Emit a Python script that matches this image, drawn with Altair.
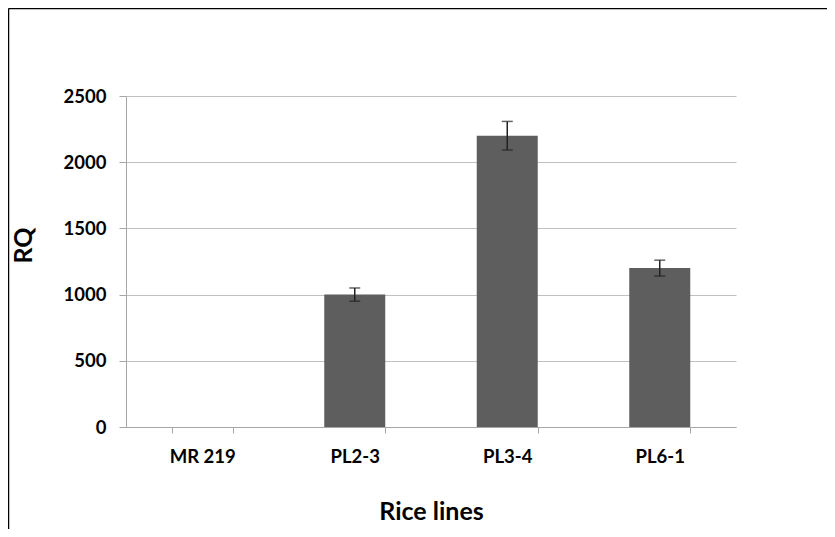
import altair as alt
import pandas as pd

lines = ["MR 219", "PL2-3", "PL3-4", "PL6-1"]
rq = [0, 1000, 2200, 1200]
err = [0, 50, 108, 60]
y_ticks = [0, 500, 1000, 1500, 2000, 2500]

df = pd.DataFrame({"line": lines, "rq": rq, "err": err})
df["lo"] = df["rq"] - df["err"]
df["hi"] = df["rq"] + df["err"]
df_err = df[df["err"] > 0]

FONT = "Lato"
GRID = "#c0c0c0"
AXIS = "#a6a6a6"

x_enc = alt.X(
    "line:N",
    sort=lines,
    title="Rice lines",
    scale=alt.Scale(paddingInner=0.6, paddingOuter=0.3),
    axis=alt.Axis(
        labelAngle=0,
        tickBand="extent",
        tickSize=6,
        tickColor=AXIS,
        domainColor=AXIS,
        labelFont=FONT,
        labelFontSize=18.5,
        labelFontWeight="bold",
        labelColor="black",
        labelBaseline="alphabetic",
        labelPadding=29,
        titleFont=FONT,
        titleFontSize=25,
        titleFontWeight="bold",
        titleColor="black",
        titleBaseline="alphabetic",
        titleY=92,
        grid=False,
    ),
)

y_scale = alt.Scale(domain=[0, 2500], nice=False)
y_axis = alt.Axis(
    values=y_ticks,
    format="d",
    grid=True,
    gridColor=GRID,
    gridWidth=1.2,
    tickSize=7,
    tickColor=AXIS,
    domainColor=AXIS,
    labelFont=FONT,
    labelFontSize=18.5,
    labelFontWeight="bold",
    labelColor="black",
    labelPadding=13,
    title="RQ",
    titleFont=FONT,
    titleFontSize=25,
    titleFontWeight="bold",
    titleColor="black",
    titleX=-90,
    titleY=149,
)

bars = alt.Chart(df).mark_bar(color="#5e5e5e").encode(
    x=x_enc,
    y=alt.Y("rq:Q", scale=y_scale, axis=y_axis),
)

err_rule = alt.Chart(df_err).mark_rule(color="#222222", strokeWidth=1.5).encode(
    x=alt.X("line:N", sort=lines),
    y="lo:Q",
    y2="hi:Q",
)

caps_hi = alt.Chart(df_err).mark_tick(color="#222222", size=11, thickness=1.5).encode(
    x=alt.X("line:N", sort=lines),
    y="hi:Q",
)
caps_lo = alt.Chart(df_err).mark_tick(color="#222222", size=11, thickness=1.5).encode(
    x=alt.X("line:N", sort=lines),
    y="lo:Q",
)

dummy = pd.DataFrame({"k": [0]})
border_top = alt.Chart(dummy).mark_rule(color="black", strokeWidth=1.5).encode(
    x=alt.value(-117.5), x2=alt.value(701), y=alt.value(-87.5)
)
border_left = alt.Chart(dummy).mark_rule(color="black", strokeWidth=1.5).encode(
    x=alt.value(-117.5), y=alt.value(-87.5), y2=alt.value(433)
)

chart = (
    alt.layer(bars, err_rule, caps_hi, caps_lo, border_top, border_left)
    .properties(
        width=610,
        height=331,
        padding={"left": 118, "top": 88, "right": 91, "bottom": 102},
        autosize=alt.AutoSizeParams(type="none"),
        background="white",
    )
    .configure_view(stroke=None)
)

chart.save("out.html", embed_options={"renderer": "svg", "actions": False})
